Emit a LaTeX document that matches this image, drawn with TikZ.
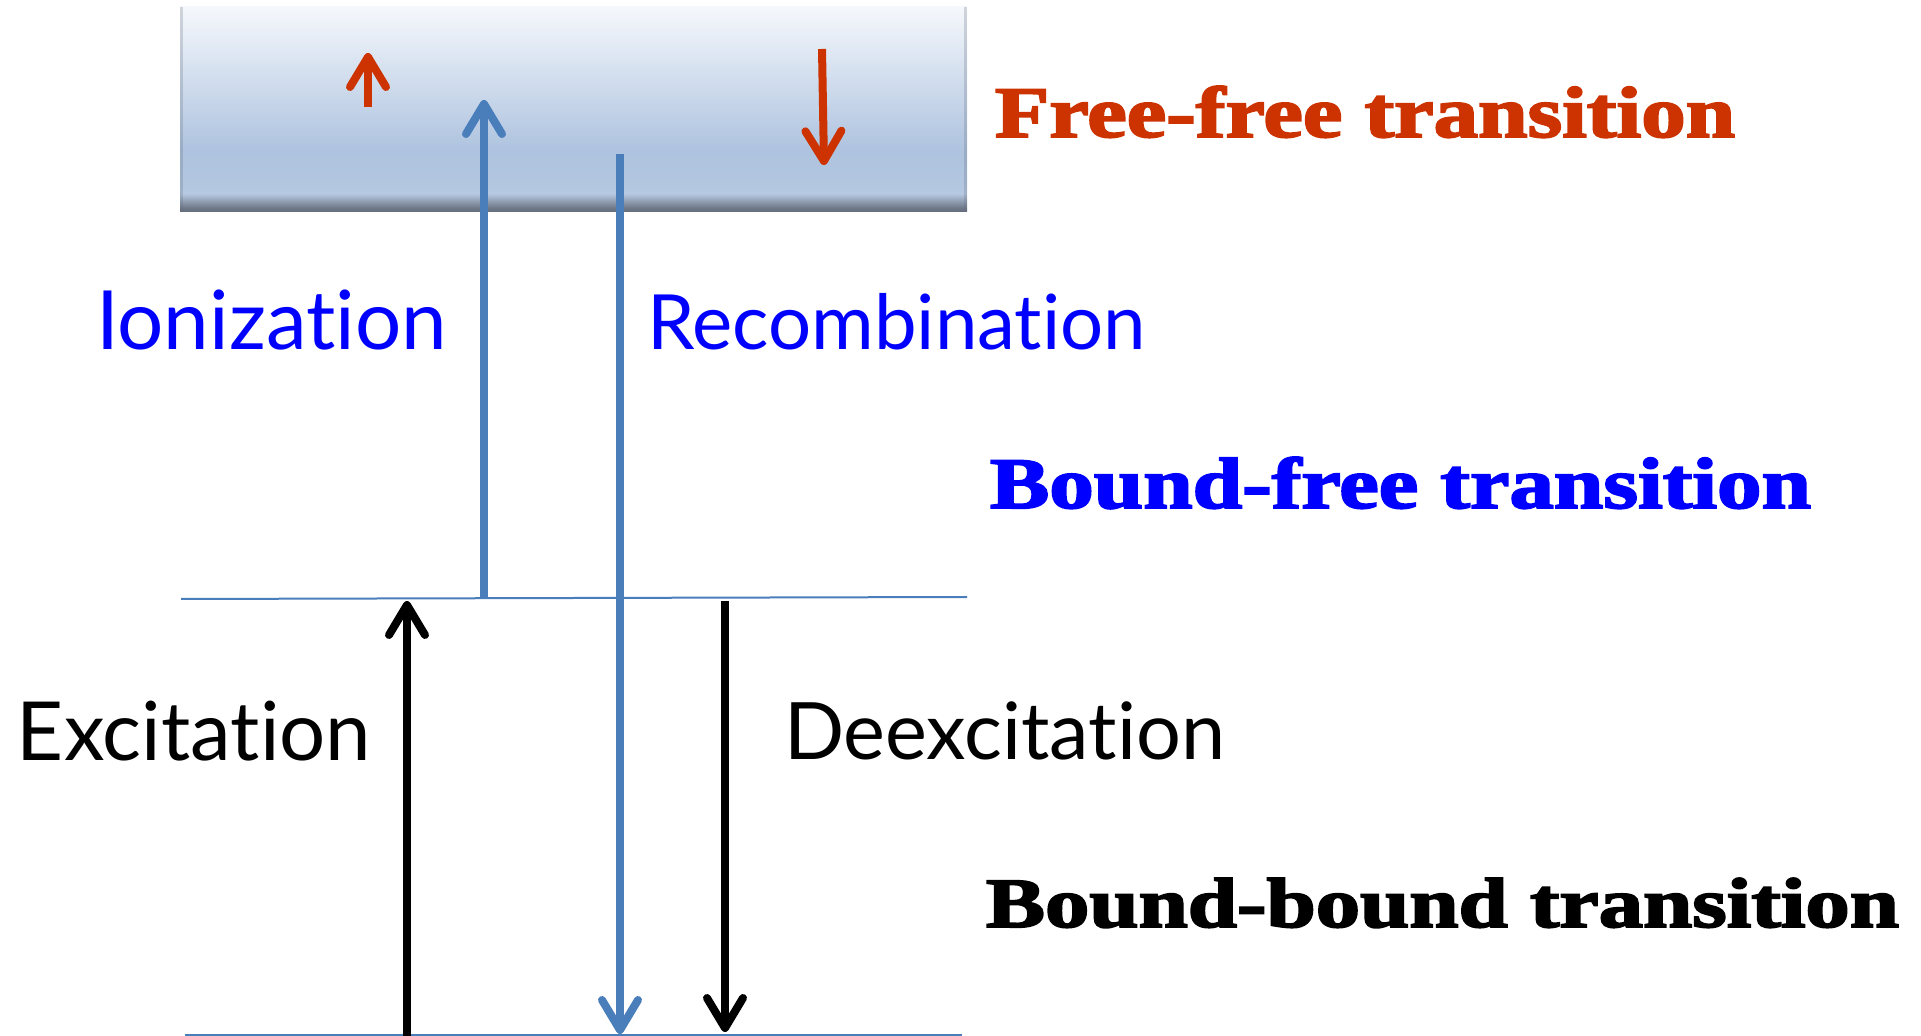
\documentclass[tikz,border=0pt]{standalone}
\usepackage{fontspec}
\usetikzlibrary{arrows.meta}
\newfontfamily\comicfont{Lato}[RawFeature={-liga;-dlig;-clig;-calt}]
\newfontfamily\heavyfont{Liberation Serif}[FakeBold=2.5]
\definecolor{arrblue}{HTML}{4A7EBB}
\definecolor{arrred}{HTML}{CC3300}
\definecolor{txtblue}{HTML}{0000FF}
\definecolor{shA}{HTML}{626C7A}
\definecolor{shB}{HTML}{6E7888}
\definecolor{shC}{HTML}{B6C9E2}
\definecolor{shD}{HTML}{B2C6E0}
\definecolor{shE}{HTML}{AEC3DF}
\definecolor{shF}{HTML}{F5F8FC}
\pgfdeclareverticalshading{boxshade}{100bp}{color(0bp)=(shA); color(25bp)=(shA); color(26bp)=(shB); color(29.5bp)=(shC); color(32bp)=(shD); color(40bp)=(shE); color(75bp)=(shF); color(100bp)=(shF)}
\tikzset{
  arr/.style={line width=4pt, -{Straight Barb[length=15pt,width=18pt,round]}},
  level/.style={draw=arrblue, line width=1pt},
  lbl/.style={anchor=base west, inner sep=0pt, outer sep=0pt},
}
\begin{document}
\begin{tikzpicture}[x=0.5pt,y=-0.5pt]
\useasboundingbox (0,0) rectangle (1921,1036);
% continuum box
\shade[shading=boxshade] (180,7) rectangle (967,212);
\fill[shA, opacity=0.25] (180,7) rectangle (183,212);
\fill[shA, opacity=0.25] (964,7) rectangle (967,212);
% levels
\coordinate (m1) at (181,599);
\coordinate (m2) at (967,597);
\coordinate (b1) at (185,1035);
\coordinate (b2) at (962,1035);
\draw[level] (m1) -- (m2);
\draw[level] (b1) -- (b2);
% arrow end points
\coordinate (ffu-s) at (368,107); \coordinate (ffu-e) at (368,53);
\coordinate (ffd-s) at (822,49);  \coordinate (ffd-e) at (824,165);
\coordinate (ion-s) at (484,597); \coordinate (ion-e) at (484,100);
\coordinate (rec-s) at (620,154); \coordinate (rec-e) at (620,1034);
\coordinate (exc-s) at (407,1036); \coordinate (exc-e) at (407,601);
\coordinate (dex-s) at (725,601); \coordinate (dex-e) at (725,1032);
\draw[arr, arrred] (ffu-s) -- (ffu-e);
\draw[arr, arrred] (ffd-s) -- (ffd-e);
\draw[arr, arrblue] (ion-s) -- (ion-e);
\draw[arr, arrblue] (rec-s) -- (rec-e);
\draw[arr, black] (exc-s) -- (exc-e);
\draw[arr, black] (dex-s) -- (dex-e);
% labels
\node[lbl, txtblue] (ionl) at (96,350) {\resizebox{175.5pt}{!}{\comicfont Ionization}};
\node[lbl, txtblue] (recl) at (647,350) {\resizebox{249.5pt}{!}{\comicfont Recombination}};
\node[lbl, black] (excl) at (17,760) {\resizebox{177pt}{!}{\comicfont Excitation}};
\node[lbl, black] (dexl) at (784,760) {\resizebox{220.5pt}{!}{\comicfont Deexcitation}};
\node[lbl, arrred] (ff) at (995,137) {\resizebox{370pt}{25.5pt}{\heavyfont\bfseries Free-free transition}};
\node[lbl, txtblue] (bf) at (990,508) {\resizebox{410.5pt}{25.5pt}{\heavyfont\bfseries Bound-free transition}};
\node[lbl, black] (bb) at (986,927) {\resizebox{456.5pt}{24.5pt}{\heavyfont\bfseries Bound-bound transition}};
\end{tikzpicture}
\end{document}
